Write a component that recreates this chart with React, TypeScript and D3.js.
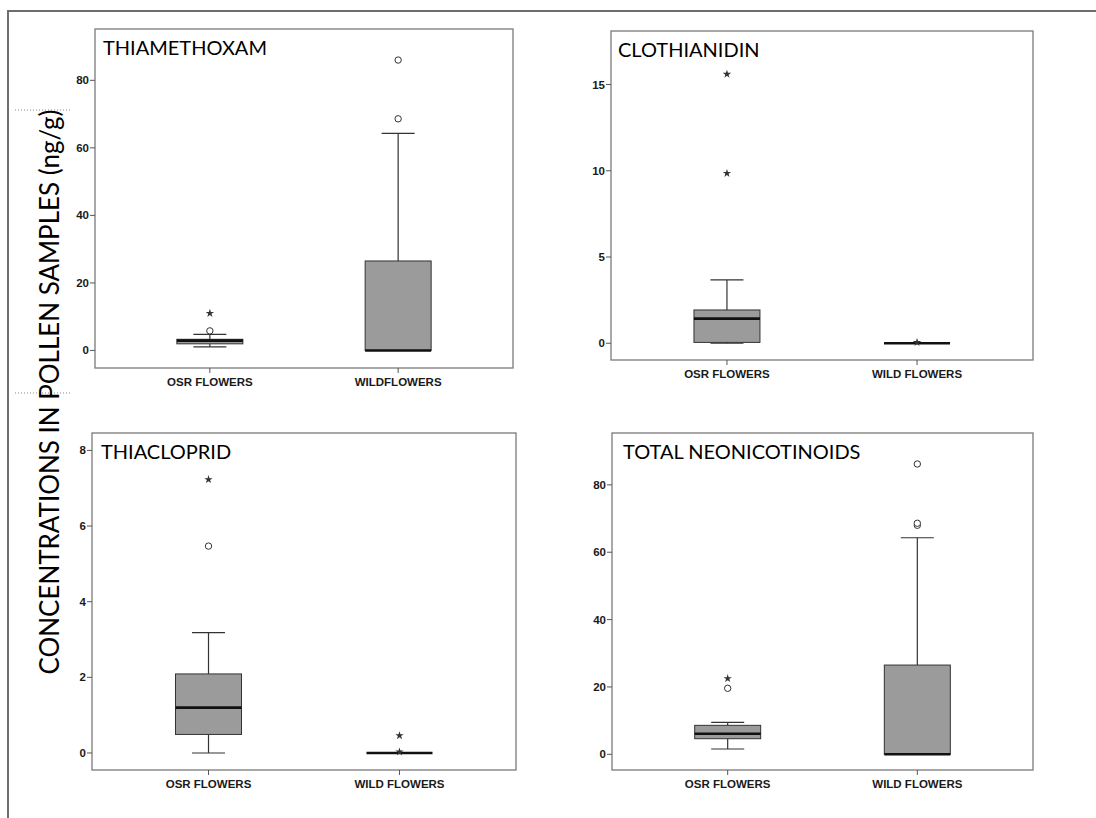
import React from "react";
import * as d3 from "d3";

// ---------- DATA ----------
const categoriesThiamethoxam = ["OSR FLOWERS", "WILDFLOWERS"];
const categoriesOther = ["OSR FLOWERS", "WILD FLOWERS"];

const thiamethoxamBoxes = [
  { min: 1.07, q1: 1.96, median: 2.9, q3: 3.3, max: 4.74 },
  { min: 0, q1: 0, median: 0, q3: 26.5, max: 64.3 },
];
const thiamethoxamOutliers = [
  { cat: 0, value: 5.8, kind: "circle" },
  { cat: 0, value: 11.0, kind: "star" },
  { cat: 1, value: 68.6, kind: "circle" },
  { cat: 1, value: 86.0, kind: "circle" },
];
const thiamethoxamTicks = [0, 20, 40, 60, 80];
const thiamethoxamDomain = [-5.2, 95.2];

const clothianidinBoxes = [
  { min: 0, q1: 0.05, median: 1.43, q3: 1.93, max: 3.67 },
  { min: 0, q1: 0, median: 0, q3: 0, max: 0 },
];
const clothianidinOutliers = [
  { cat: 0, value: 9.85, kind: "star" },
  { cat: 0, value: 15.6, kind: "star" },
  { cat: 1, value: 0.05, kind: "star" },
];
const clothianidinTicks = [0, 5, 10, 15];
const clothianidinDomain = [-0.97, 18.1];

const thiaclopridBoxes = [
  { min: 0, q1: 0.49, median: 1.2, q3: 2.09, max: 3.18 },
  { min: 0, q1: 0, median: 0, q3: 0, max: 0 },
];
const thiaclopridOutliers = [
  { cat: 0, value: 5.47, kind: "circle" },
  { cat: 0, value: 7.23, kind: "star" },
  { cat: 1, value: 0.46, kind: "star" },
  { cat: 1, value: 0.03, kind: "star" },
];
const thiaclopridTicks = [0, 2, 4, 6, 8];
const thiaclopridDomain = [-0.45, 8.46];

const totalBoxes = [
  { min: 1.57, q1: 4.63, median: 6.1, q3: 8.6, max: 9.5 },
  { min: 0, q1: 0, median: 0, q3: 26.5, max: 64.3 },
];
const totalOutliers = [
  { cat: 0, value: 19.6, kind: "circle" },
  { cat: 0, value: 22.5, kind: "star" },
  { cat: 1, value: 68.0, kind: "circle" },
  { cat: 1, value: 68.6, kind: "circle" },
  { cat: 1, value: 86.2, kind: "circle" },
];
const totalTicks = [0, 20, 40, 60, 80];
const totalDomain = [-4.66, 95.4];

const panelTitles = ["THIAMETHOXAM", "CLOTHIANIDIN", "THIACLOPRID", "TOTAL NEONICOTINOIDS"];
const yAxisTitle = "CONCENTRATIONS IN POLLEN SAMPLES (ng/g)";

// ---------- LAYOUT ----------
const W = 1096;
const H = 818;
const layout = [
  { x0: 95, y0: 29, x1: 513, y1: 368, tx: 8 },
  { x0: 611, y0: 31, x1: 1033, y1: 360, tx: 7 },
  { x0: 92, y0: 433, x1: 516, y1: 770, tx: 9 },
  { x0: 612, y0: 433, x1: 1033, y1: 770, tx: 11 },
];
const BOX_W = 66;
const CAP_W = 33;

const panels = [
  { title: panelTitles[0], cats: categoriesThiamethoxam, boxes: thiamethoxamBoxes, outliers: thiamethoxamOutliers, ticks: thiamethoxamTicks, domain: thiamethoxamDomain },
  { title: panelTitles[1], cats: categoriesOther, boxes: clothianidinBoxes, outliers: clothianidinOutliers, ticks: clothianidinTicks, domain: clothianidinDomain },
  { title: panelTitles[2], cats: categoriesOther, boxes: thiaclopridBoxes, outliers: thiaclopridOutliers, ticks: thiaclopridTicks, domain: thiaclopridDomain },
  { title: panelTitles[3], cats: categoriesOther, boxes: totalBoxes, outliers: totalOutliers, ticks: totalTicks, domain: totalDomain },
];

const starPath = d3.symbol().type(d3.symbolStar).size(22)() as string;
const tickFont = "'Liberation Sans', Arial, sans-serif";
const titleFont = "Lato, 'Open Sans', sans-serif";

function Panel({ p, l }: { p: any; l: any }) {
  const x = d3.scalePoint<string>().domain(p.cats).range([l.x0, l.x1]).padding(0.61);
  const y = d3.scaleLinear().domain(p.domain).range([l.y1, l.y0]);
  return (
    <g>
      <rect x={l.x0} y={l.y0} width={l.x1 - l.x0} height={l.y1 - l.y0} fill="white" stroke="#7a7a7a" strokeWidth={1.3} />
      {p.ticks.map((t: number) => (
        <g key={t} transform={`translate(${l.x0},${y(t)})`}>
          <line x1={-5} x2={0} stroke="#555" strokeWidth={1} />
          <text x={-6} dy="0.35em" textAnchor="end" fontFamily={tickFont} fontWeight="bold" fontSize={11.5} fill="#1a1a1a">
            {t}
          </text>
        </g>
      ))}
      {p.cats.map((c: string) => (
        <g key={c} transform={`translate(${x(c)},${l.y1})`}>
          <line y1={0} y2={5} stroke="#555" strokeWidth={1} />
          <text y={18} textAnchor="middle" fontFamily={tickFont} fontWeight="bold" fontSize={11.5} fill="#1a1a1a">
            {c}
          </text>
        </g>
      ))}
      {p.boxes.map((b: any, i: number) => {
        const cx = x(p.cats[i]) as number;
        return (
          <g key={i}>
            <line x1={cx} x2={cx} y1={y(b.q3)} y2={y(b.max)} stroke="#333" strokeWidth={1.2} />
            <line x1={cx} x2={cx} y1={y(b.q1)} y2={y(b.min)} stroke="#333" strokeWidth={1.2} />
            <line x1={cx - CAP_W / 2} x2={cx + CAP_W / 2} y1={y(b.max)} y2={y(b.max)} stroke="#333" strokeWidth={1.2} />
            <line x1={cx - CAP_W / 2} x2={cx + CAP_W / 2} y1={y(b.min)} y2={y(b.min)} stroke="#333" strokeWidth={1.2} />
            <rect x={cx - BOX_W / 2} y={y(b.q3)} width={BOX_W} height={Math.max(0, y(b.q1) - y(b.q3))} fill="#9b9b9b" stroke="#333" strokeWidth={1} />
            <line x1={cx - BOX_W / 2} x2={cx + BOX_W / 2} y1={y(b.median)} y2={y(b.median)} stroke="#111" strokeWidth={2.6} />
          </g>
        );
      })}
      {p.outliers.map((o: any, i: number) => {
        const cx = x(p.cats[o.cat]) as number;
        const cy = y(o.value);
        return o.kind === "circle" ? (
          <circle key={i} cx={cx} cy={cy} r={3.2} fill="white" stroke="#333" strokeWidth={1} />
        ) : (
          <path key={i} d={starPath} transform={`translate(${cx},${cy})`} fill="#333" />
        );
      })}
      <text x={l.x0 + l.tx} y={l.y0 + 26} fontFamily={titleFont} fontSize={20} fill="#000">
        {p.title}
      </text>
    </g>
  );
}

export default function App() {
  return (
    <svg width={W} height={H} style={{ position: "absolute", left: 0, top: 0, background: "white" }}>
      <rect x={0} y={0} width={W} height={H} fill="white" />
      <rect x={8} y={11} width={W + 20} height={H + 20} fill="none" stroke="#6e6e6e" strokeWidth={2} />
      {panels.map((p, i) => (
        <Panel key={i} p={p} l={layout[i]} />
      ))}
      <line x1={15} x2={72} y1={110} y2={110} stroke="#888" strokeWidth={1} strokeDasharray="1,2" />
      <line x1={15} x2={72} y1={393} y2={393} stroke="#888" strokeWidth={1} strokeDasharray="1,2" />
      <text transform="translate(59,392) rotate(-90)" textAnchor="middle" fontFamily={titleFont} fontSize={27} textLength={565} lengthAdjust="spacingAndGlyphs" fill="#000">
        {yAxisTitle}
      </text>
    </svg>
  );
}
